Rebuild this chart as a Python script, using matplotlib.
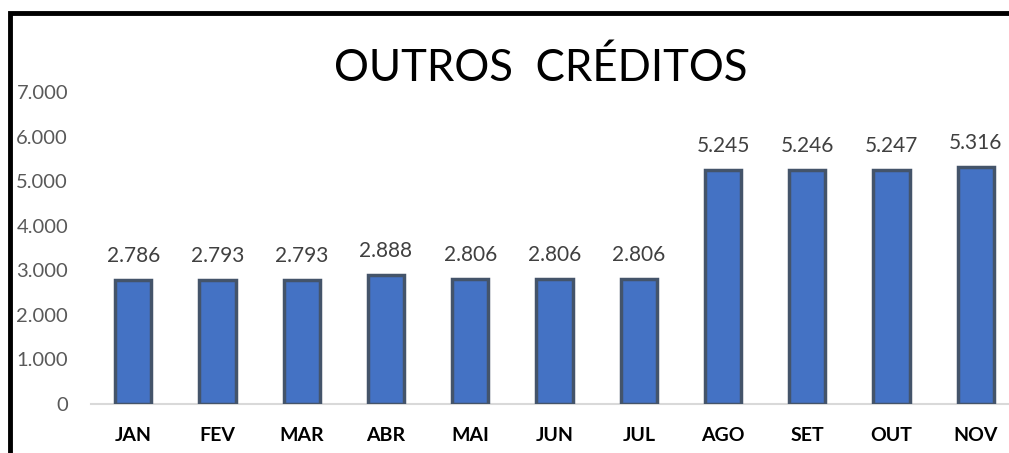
import matplotlib
matplotlib.use("Agg")
import matplotlib.pyplot as plt
from matplotlib.patches import Rectangle

months = ["JAN", "FEV", "MAR", "ABR", "MAI", "JUN", "JUL", "AGO", "SET", "OUT", "NOV"]
values = [2786, 2793, 2793, 2888, 2806, 2806, 2806, 5245, 5246, 5247, 5316]
yticks = [0, 1000, 2000, 3000, 4000, 5000, 6000, 7000]
title = "OUTROS  CRÉDITOS"

def fmt(v):
    return f"{v:,}".replace(",", ".")

plt.rcParams['font.family'] = ['Lato', 'DejaVu Sans']
W, H = 1009, 453
fig = plt.figure(figsize=(W / 100, H / 100), dpi=100)
ax = fig.add_axes([91 / W, 1 - 404 / H, (1018 - 91) / W, (404 - 92) / H])

x = list(range(len(months)))
ax.bar(x, values, width=0.43, color="#4472C4", edgecolor="#44546A", linewidth=2.5, zorder=3)
ax.set_xlim(-0.5, len(months) - 0.5)
ax.set_ylim(0, 7000)
ax.set_yticks(yticks)
ax.set_yticklabels([fmt(v) for v in yticks], fontsize=14.5, color="#595959")
ax.set_xticks(x)
ax.set_xticklabels(months, fontsize=14, fontweight="bold", color="black")
ax.tick_params(axis="y", length=0, pad=16.5)
ax.tick_params(axis="x", length=0, pad=16.5)
for s in ["top", "right", "left"]:
    ax.spines[s].set_visible(False)
ax.spines["bottom"].set_color("#D9D9D9")
ax.spines["bottom"].set_linewidth(1.5)

for xi, v in zip(x, values):
    ax.annotate(fmt(v), (xi, v), xytext=(0, 10), textcoords="offset points",
                ha="center", va="bottom", fontsize=15, color="#404040")

fig.text(541 / W, 1 - 68 / H, title, ha="center", va="center", fontsize=31.5, color="black")

fig.patches.append(Rectangle((10 / W, -0.5), 2.0, 1 - 13 / H + 0.5, transform=fig.transFigure,
                             fill=False, edgecolor="black", linewidth=3.5))

fig.savefig("out.png", dpi=100)
